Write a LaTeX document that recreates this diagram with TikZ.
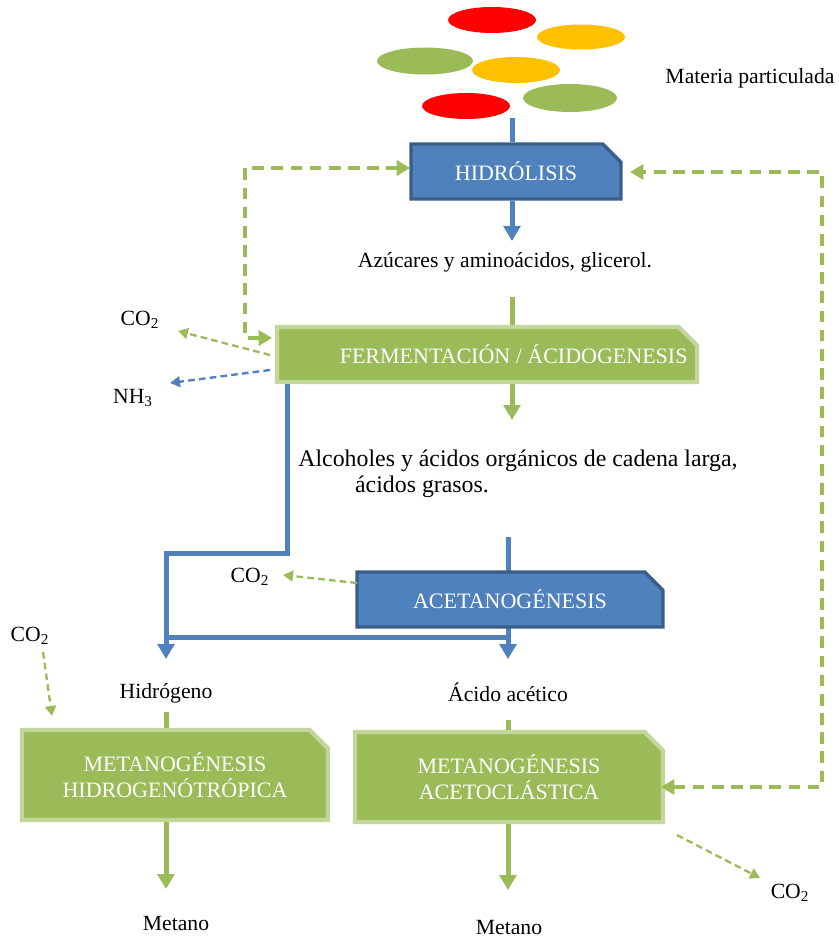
\documentclass[tikz,border=0pt]{standalone}
\usepackage{fontspec}
\setmainfont{Liberation Serif}
\usetikzlibrary{arrows.meta,shapes.misc}
\definecolor{bfill}{HTML}{4F81BD}
\definecolor{bdraw}{HTML}{385D8A}
\definecolor{gfill}{HTML}{9BBB59}
\definecolor{gdraw}{HTML}{C3D69B}
\definecolor{pred}{HTML}{FF0000}
\definecolor{pyel}{HTML}{FFC000}
\begin{document}
\begin{tikzpicture}[x=0.6pt,y=-0.6pt,
  box/.style={chamfered rectangle, chamfered rectangle corners=north east,
    chamfered rectangle xsep=5.5pt, chamfered rectangle ysep=5.5pt, inner sep=0pt,
    font=\fontsize{13.2}{16}\selectfont, text=white, align=center},
  bluebox/.style={box, fill=bfill, draw=bdraw, line width=2pt},
  greenbox/.style={box, fill=gfill, draw=gdraw, line width=2.5pt},
  lbl/.style={font=\fontsize{13}{16}\selectfont, inner sep=0pt},
  biglbl/.style={font=\fontsize{14.3}{17}\selectfont, inner sep=0pt},
  bigtip/.style={-{Triangle[width=10pt,length=9pt]}},
  bline/.style={draw=bfill, line width=3pt},
  gline/.style={draw=gfill, line width=3pt},
  bflow/.style={bline, bigtip},
  gflow/.style={gline, bigtip},
  sdash/.style={draw=gfill, line width=1.4pt, dash pattern=on 4pt off 2.5pt, -{Triangle[width=6.5pt,length=6pt]}},
  bdash/.style={draw=bfill, line width=1.4pt, dash pattern=on 4pt off 2.5pt, -{Triangle[width=6.5pt,length=6pt]}},
  fb/.style={draw=gfill, line width=2.4pt, dash pattern=on 7pt off 4.5pt,
    {Triangle[width=9pt,length=8pt]}-{Triangle[width=9pt,length=8pt]}}
]
\useasboundingbox (0,0) rectangle (839,938);

% particulate matter
\fill[pred] (492,20) ellipse [x radius=44, y radius=13];
\fill[pyel] (581,37) ellipse [x radius=44, y radius=12.5];
\fill[gfill] (425,61) ellipse [x radius=48, y radius=13.5];
\fill[pyel] (516,70) ellipse [x radius=44, y radius=13];
\fill[pred] (466,106) ellipse [x radius=44, y radius=13];
\fill[gfill] (570,98) ellipse [x radius=47, y radius=14];
\node[lbl] (mp) at (750,78) {Materia particulada};

% coordinates
\coordinate (mpb) at (512,118);
\coordinate (azt) at (512,241);
\coordinate (azb) at (512,297);
\coordinate (alt) at (512,420);
\coordinate (act) at (508,537);
\coordinate (acb) at (508,659);
\coordinate (hyb) at (166,659);
\coordinate (hyt) at (166,712);
\coordinate (aat) at (508,720);
\coordinate (m1) at (166,889);
\coordinate (m2) at (508,890);

% lines behind boxes
\draw[bflow] (act) -- (acb);

% boxes
\node[bluebox, minimum width=126pt, minimum height=33pt] (hid) at (516,171.5) {HIDRÓLISIS};
\node[greenbox, minimum width=252pt, minimum height=33pt] (fer) at (487,354.5) {\hspace*{32pt}FERMENTACIÓN / ÁCIDOGENESIS};
\node[bluebox, minimum width=183.6pt, minimum height=33pt] (acet) at (510,599.5) {ACETANOGÉNESIS};
\node[greenbox, minimum width=183.6pt, minimum height=54pt] (hidro) at (175,775) {METANOGÉNESIS\\HIDROGENÓTRÓPICA};
\node[greenbox, minimum width=184.8pt, minimum height=54pt] (aceto) at (509,777) {METANOGÉNESIS\\ACETOCLÁSTICA};

% texts
\node[lbl] (azu) at (505,262) {Azúcares y aminoácidos, glicerol.};
\node[biglbl] (alc1) at (518,461) {Alcoholes y ácidos orgánicos de cadena larga,};
\node[biglbl] (alc2) at (422,487) {ácidos grasos.};
\node[lbl] (co2a) at (140,320) {CO\textsubscript{2}};
\node[lbl] (nh3) at (133,398) {NH\textsubscript{3}};
\node[lbl] (co2b) at (250,577) {CO\textsubscript{2}};
\node[lbl] (co2c) at (30,636) {CO\textsubscript{2}};
\node[lbl] (hidr) at (166,693) {Hidrógeno};
\node[lbl] (acac) at (508,692) {Ácido acético};
\node[lbl] (met1) at (176,923) {Metano};
\node[lbl] (met2) at (509,927) {Metano};
\node[lbl] (co2d) at (790,893) {CO\textsubscript{2}};

% main flow
\draw[bline] (mpb) -- (mpb |- hid.north);
\draw[bflow] (hid.south -| mpb) -- (azt);
\draw[gline] (azb) -- (azb |- fer.north);
\draw[gflow] (fer.south -| alt) -- (alt);
\draw[bflow] (fer.south -| 287,0) -- (287,553) -- (166,553) -- (hyb);
\draw[bline] (166,637) -- (508,637);
\draw[gline] (hyt) -- (hyt |- hidro.north);
\draw[gline] (aat) -- (aat |- aceto.north);
\draw[gflow] (hidro.south -| m1) -- (m1);
\draw[gflow] (aceto.south -| m2) -- (m2);

% by-products
\draw[sdash] (270,355) -- (178,331);
\draw[bdash] (270,370) -- (170,383);
\draw[sdash] (357,583) -- (283,575);
\draw[sdash] (43,652) -- (52,716);
\draw[sdash] (677,835) -- (760,878);

% feedback loops
\draw[fb] (272,338) -- (245,338) -- (245,168) -- (410,168);
\draw[fb] (661,787) -- (822,787) -- (822,172) -- (630,172);
\end{tikzpicture}
\end{document}
